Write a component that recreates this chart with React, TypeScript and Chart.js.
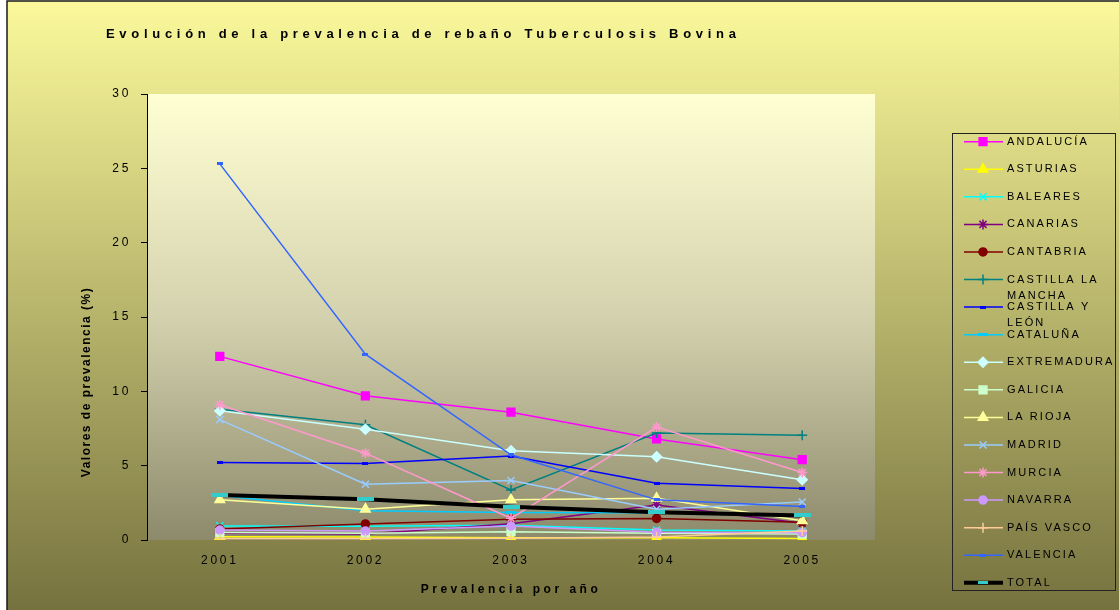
import React, { useEffect, useRef } from 'react';
import { Chart, registerables } from 'chart.js';
import { drawPoint } from 'chart.js/helpers';

Chart.register(...registerables);

const years = ['2001', '2002', '2003', '2004', '2005'];

const andalucia = [12.35, 9.7, 8.6, 6.8, 5.4];
const asturias = [0.22, 0.2, 0.15, 0.15, 0.1];
const baleares = [0.95, 0.92, 1.0, 0.67, 0.6];
const canarias = [0.45, 0.4, 1.1, 2.35, 1.12];
const cantabria = [0.74, 1.08, 1.39, 1.45, 1.2];
const castillaLaMancha = [8.8, 7.75, 3.37, 7.2, 7.05];
const castillaYLeon = [5.22, 5.15, 5.65, 3.82, 3.46];
const cataluna = [3.0, 1.96, 1.85, 1.84, 1.62];
const extremadura = [8.7, 7.45, 6.0, 5.6, 4.05];
const galicia = [0.5, 0.45, 0.56, 0.45, 0.4];
const laRioja = [2.7, 2.07, 2.7, 2.8, 1.3];
const madrid = [8.1, 3.75, 4.0, 2.07, 2.56];
const murcia = [9.1, 5.84, 1.46, 7.6, 4.54];
const navarra = [0.67, 0.6, 0.94, 0.52, 0.49];
const paisVasco = [0.1, 0.1, 0.12, 0.2, 0.6];
const valencia = [25.3, 12.5, 5.73, 2.7, 2.25];
const total = [3.03, 2.74, 2.23, 1.87, 1.65];

const seriesNames = [
  'ANDALUCÍA', 'ASTURIAS', 'BALEARES', 'CANARIAS', 'CANTABRIA', 'CASTILLA LA MANCHA',
  'CASTILLA Y LEÓN', 'CATALUÑA', 'EXTREMADURA', 'GALICIA', 'LA RIOJA', 'MADRID',
  'MURCIA', 'NAVARRA', 'PAÍS VASCO', 'VALENCIA', 'TOTAL',
];
const seriesValues = [
  andalucia, asturias, baleares, canarias, cantabria, castillaLaMancha,
  castillaYLeon, cataluna, extremadura, galicia, laRioja, madrid,
  murcia, navarra, paisVasco, valencia, total,
];

const titleText = 'Evolución de la prevalencia de rebaño Tuberculosis Bovina';
const yTitleText = 'Valores de prevalencia (%)';
const xTitleText = 'Prevalencia por año';

const FONT = '"Liberation Sans", Arial, sans-serif';

type Style = { color: string; marker: string; radius: number; width: number; bar?: [number, number]; markerColor?: string; legendBar?: [number, number] };

const styles: Style[] = [
  { color: '#ff00ff', marker: 'rect', radius: 5.5, width: 1.5 },
  { color: '#ffff00', marker: 'triangle', radius: 5.5, width: 1.5 },
  { color: '#00ffff', marker: 'crossRot', radius: 5, width: 1.5 },
  { color: '#800080', marker: 'star', radius: 5, width: 1.5 },
  { color: '#800000', marker: 'circle', radius: 4, width: 1.5 },
  { color: '#008080', marker: 'cross', radius: 5, width: 1.5 },
  { color: '#0000ff', marker: 'bar', radius: 3, width: 1.5, bar: [6, 3] },
  { color: '#00ccff', marker: 'bar', radius: 3, width: 1.5, bar: [10, 3] },
  { color: '#ccffff', marker: 'rectRot', radius: 5, width: 1.5 },
  { color: '#ccffcc', marker: 'rect', radius: 5.5, width: 1.5 },
  { color: '#ffff99', marker: 'triangle', radius: 5.5, width: 1.5 },
  { color: '#99ccff', marker: 'crossRot', radius: 5, width: 1.5 },
  { color: '#ff99cc', marker: 'star', radius: 5, width: 1.5 },
  { color: '#cc99ff', marker: 'circle', radius: 4, width: 1.5 },
  { color: '#ffcc99', marker: 'cross', radius: 5, width: 1.5 },
  { color: '#3366ff', marker: 'bar', radius: 3, width: 1.5, bar: [6, 3] },
  { color: '#000000', marker: 'bar', radius: 3, width: 4, bar: [17, 4], markerColor: '#33cccc', legendBar: [10, 3] },
];

function makeBar(w: number, h: number, color: string) {
  const c = document.createElement('canvas');
  c.width = w;
  c.height = h;
  const x = c.getContext('2d')!;
  x.fillStyle = color;
  x.fillRect(0, 0, w, h);
  return c;
}

function setLS(ctx: CanvasRenderingContext2D, v: string) {
  (ctx as any).letterSpacing = v;
}

export default function App() {
  const ref = useRef<HTMLCanvasElement>(null);

  useEffect(() => {
    document.body.style.margin = '0';
    const canvas = ref.current!;

    const pointStyles = styles.map((s) =>
      s.marker === 'bar' ? makeBar(s.bar![0], s.bar![1], s.markerColor || s.color) : s.marker
    );
    const legendStyles = styles.map((s, i) =>
      s.legendBar ? makeBar(s.legendBar[0], s.legendBar[1], s.markerColor || s.color) : pointStyles[i]
    );

    const datasets = seriesNames.map((name, i) => {
      const s = styles[i];
      const mc = s.markerColor || s.color;
      return {
        label: name,
        data: seriesValues[i],
        borderColor: s.color,
        backgroundColor: s.color,
        borderWidth: s.width,
        pointStyle: pointStyles[i] as any,
        pointRadius: s.radius,
        pointBackgroundColor: mc,
        pointBorderColor: mc,
        pointBorderWidth: 1.5,
        tension: 0,
        order: -i,
      };
    });

    const decor = {
      id: 'decor',
      beforeDraw(chart: any) {
        const { ctx, width, height, chartArea: a } = chart;
        ctx.save();
        ctx.fillStyle = '#ffffff';
        ctx.fillRect(0, 0, width, height);
        const g = ctx.createLinearGradient(0, 1, 0, height);
        g.addColorStop(0, '#fbf99b');
        g.addColorStop(1, '#76723f');
        ctx.fillStyle = g;
        ctx.fillRect(7, 1, width - 7, height - 1);
        const pg = ctx.createLinearGradient(0, a.top, 0, a.bottom);
        pg.addColorStop(0, '#ffffd3');
        pg.addColorStop(0.5, '#d4d2ae');
        pg.addColorStop(1, '#8c8a6b');
        ctx.fillStyle = pg;
        ctx.fillRect(a.left, a.top, a.right - a.left, a.bottom - a.top);
        ctx.strokeStyle = '#1a1a1a';
        ctx.lineWidth = 1.5;
        ctx.strokeRect(7, 1, width + 20, height + 20);
        ctx.restore();
        setLS(ctx, '2.7px');
      },
      afterDraw(chart: any) {
        const { ctx, chartArea: a } = chart;
        ctx.save();
        ctx.fillStyle = '#000';
        // title
        setLS(ctx, '4.7px');
        ctx.font = `bold 13px ${FONT}`;
        ctx.textAlign = 'left';
        ctx.textBaseline = 'alphabetic';
        ctx.fillText(titleText, 106, 38);
        // x title
        setLS(ctx, '3.5px');
        ctx.font = `bold 12px ${FONT}`;
        ctx.textAlign = 'center';
        ctx.fillText(xTitleText, (a.left + a.right) / 2, 593);
        // y title
        ctx.save();
        setLS(ctx, '1.5px');
        ctx.translate(90, 382);
        ctx.rotate(-Math.PI / 2);
        ctx.fillText(yTitleText, 0, 0);
        ctx.restore();

        // legend
        const bx = 952.5, by = 133.5, bw = 163, bh = 457;
        ctx.strokeStyle = '#222';
        ctx.lineWidth = 1;
        ctx.strokeRect(bx, by, bw, bh);
        setLS(ctx, '2.1px');
        ctx.font = `11px ${FONT}`;
        ctx.textAlign = 'left';
        ctx.textBaseline = 'middle';
        const maxW = 106;
        seriesNames.forEach((name, i) => {
          const s = styles[i];
          const y = 141.7 + 27.57 * i;
          ctx.strokeStyle = s.color;
          ctx.lineWidth = s.width;
          ctx.beginPath();
          ctx.moveTo(964, y);
          ctx.lineTo(1003, y);
          ctx.stroke();
          const mc = s.markerColor || s.color;
          ctx.fillStyle = mc;
          ctx.strokeStyle = mc;
          ctx.lineWidth = 1.5;
          drawPoint(ctx, { pointStyle: legendStyles[i] as any, rotation: 0, radius: s.radius, borderWidth: 1.5 } as any, 983, y);
          // wrap text
          const words = name.split(' ');
          const lines: string[] = [];
          let cur = '';
          words.forEach((w) => {
            const test = cur ? cur + ' ' + w : w;
            if (cur && ctx.measureText(test).width > maxW) {
              lines.push(cur);
              cur = w;
            } else cur = test;
          });
          if (cur) lines.push(cur);
          ctx.fillStyle = '#000';
          lines.forEach((ln, k) => ctx.fillText(ln, 1007, y + k * 16));
        });
        ctx.restore();
        setLS(ctx, '0px');
      },
    };

    const chart = new Chart(canvas, {
      type: 'line',
      data: { labels: years, datasets: datasets as any },
      options: {
        responsive: false,
        animation: false,
        layout: { padding: { left: 0, top: 94, right: 244, bottom: 0 } },
        plugins: { legend: { display: false }, title: { display: false }, tooltip: { enabled: false } },
        scales: {
          x: {
            type: 'category',
            offset: true,
            grid: { display: false, drawTicks: false },
            border: { display: false },
            ticks: { color: '#000', font: { family: FONT, size: 12 }, padding: 13, maxRotation: 0, autoSkip: false },
            afterFit: (s: any) => { s.height = 70; },
          },
          y: {
            min: 0,
            max: 30,
            ticks: { stepSize: 5, color: '#000', font: { family: FONT, size: 12 }, padding: 10 },
            grid: { display: true, drawOnChartArea: false, drawTicks: true, tickLength: 6, color: '#000' },
            border: { display: true, color: '#000', width: 1 },
            afterFit: (s: any) => { s.width = 147; },
          },
        },
      } as any,
      plugins: [decor],
    });
    return () => chart.destroy();
  }, []);

  return <canvas ref={ref} width={1119} height={610} style={{ display: 'block', width: 1119, height: 610 }} />;
}
